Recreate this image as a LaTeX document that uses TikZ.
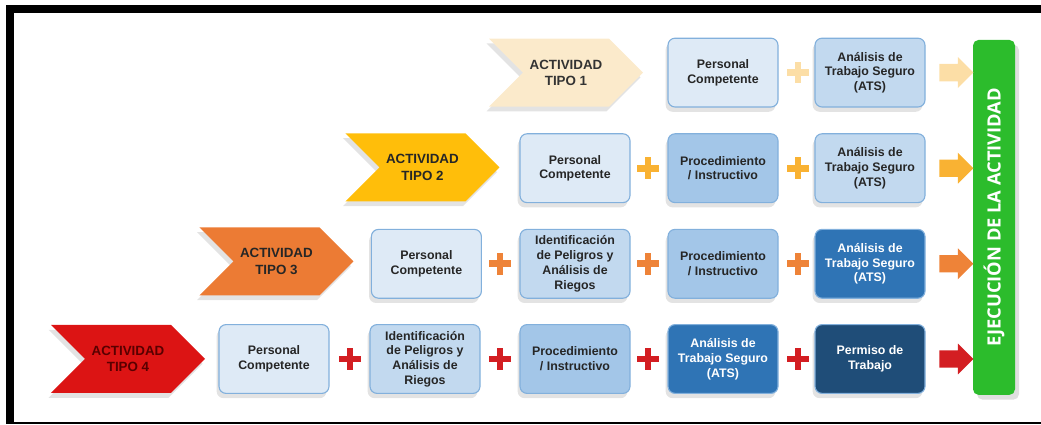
\documentclass[tikz,border=0pt]{standalone}
\usepackage{fontspec}
\setmainfont{Liberation Sans}
\newfontfamily\barfont{Open Sans}
\usetikzlibrary{shapes.symbols,shapes.arrows,shadows}

\definecolor{tipoA}{HTML}{FBEACB}
\definecolor{tipoB}{HTML}{FFBE0A}
\definecolor{tipoC}{HTML}{EC7B34}
\definecolor{tipoD}{HTML}{DC1414}
\definecolor{plusA}{HTML}{FCDEA6}
\definecolor{plusB}{HTML}{F9B233}
\definecolor{plusC}{HTML}{EE8338}
\definecolor{plusD}{HTML}{D31E22}
\definecolor{cardA}{HTML}{DEEAF6}
\definecolor{cardB}{HTML}{C2D9EF}
\definecolor{cardC}{HTML}{A3C6E8}
\definecolor{cardD}{HTML}{2F74B5}
\definecolor{cardE}{HTML}{1F4D78}
\definecolor{cardline}{HTML}{82B0DC}
\definecolor{execgreen}{HTML}{2CBC2C}

\begin{document}
\begin{tikzpicture}[
  font=\bfseries\fontsize{8.8}{10.5}\selectfont,
  chev/.style={signal, signal from=west, signal to=east, fill=#1, minimum width=3.85cm, minimum height=1.7cm, align=center, font=\bfseries\fontsize{9.5}{11.5}\selectfont, drop shadow={shadow xshift=-0.06cm, shadow yshift=-0.12cm, opacity=0.22}},
  card/.style={draw=cardline, line width=0.8pt, fill=#1, rounded corners=5pt, minimum width=2.75cm, minimum height=1.72cm, align=center, text=black!85, drop shadow={shadow xshift=-0.06cm, shadow yshift=-0.12cm, opacity=0.22}},
  plussign/.style={minimum size=0.6cm, inner sep=0pt, path picture={
    \fill[#1] ([xshift=-0.27cm,yshift=-0.085cm]path picture bounding box.center) rectangle ([xshift=0.27cm,yshift=0.085cm]path picture bounding box.center);
    \fill[#1] ([xshift=-0.085cm,yshift=-0.27cm]path picture bounding box.center) rectangle ([xshift=0.085cm,yshift=0.27cm]path picture bounding box.center);}},
  arr/.style={single arrow, fill=#1, minimum height=0.85cm, inner sep=0.21cm, single arrow head extend=0.17cm}
]
\useasboundingbox (0,0) rectangle (26.025,10.625);
% frame
\draw[line width=5.7pt] (26.1,10.4) -- (0.24,10.4) -- (0.24,0.03);
\draw[line width=0.8pt] (0.24,0.05) -- (26.1,0.05);

% ejecucion
\node[fill=execgreen, rounded corners=4pt, rotate=90, minimum width=8.875cm, minimum height=1.05cm, text=white, font=\barfont\bfseries\fontsize{13}{15}\selectfont, drop shadow={shadow xshift=0.1cm, shadow yshift=-0.12cm, opacity=0.25}] (exec) at (24.85,5.19) {EJECUCIÓN DE LA ACTIVIDAD};

% tipo 1
\node[chev=tipoA, text=black!80] (tipo1) at (14.15,8.81) {ACTIVIDAD\\TIPO 1};
\node[card=cardA] (pc1) at (18.075,8.81) {Personal\\Competente};
\node[plussign=plusA] (p1a) at (19.95,8.81) {};
\node[card=cardB] (ats1) at (21.75,8.81) {Análisis de\\Trabajo Seguro\\(ATS)};
\node[arr=plusA] (go1) at (23.8,8.81) {};

% tipo 2
\node[chev=tipoB, text=black!85] (tipo2) at (10.56,6.44) {ACTIVIDAD\\TIPO 2};
\node[card=cardA] (pc2) at (14.375,6.42) {Personal\\Competente};
\node[plussign=plusB] (p2a) at (16.2,6.42) {};
\node[card=cardC] (proc2) at (18.075,6.42) {Procedimiento\\/ Instructivo};
\node[plussign=plusB] (p2b) at (19.95,6.42) {};
\node[card=cardB] (ats2) at (21.75,6.42) {Análisis de\\Trabajo Seguro\\(ATS)};
\node[arr=plusB] (go2) at (23.8,6.42) {};

% tipo 3
\node[chev=tipoC, text=black!85] (tipo3) at (6.91,4.09) {ACTIVIDAD\\TIPO 3};
\node[card=cardA] (pc3) at (10.66,4.03) {Personal\\Competente};
\node[plussign=plusC] (p3a) at (12.5,4.03) {};
\node[card=cardB] (ipa3) at (14.375,4.03) {Identificación\\de Peligros y\\Análisis de\\Riegos};
\node[plussign=plusC] (p3b) at (16.2,4.03) {};
\node[card=cardC] (proc3) at (18.075,4.03) {Procedimiento\\/ Instructivo};
\node[plussign=plusC] (p3c) at (19.95,4.03) {};
\node[card=cardD, text=white] (ats3) at (21.75,4.03) {Análisis de\\Trabajo Seguro\\(ATS)};
\node[arr=plusC] (go3) at (23.8,4.03) {};

% tipo 4
\node[chev=tipoD, text=red!35!black] (tipo4) at (3.2,1.65) {ACTIVIDAD\\TIPO 4};
\node[card=cardA] (pc4) at (6.85,1.65) {Personal\\Competente};
\node[plussign=plusD] (p4a) at (8.75,1.65) {};
\node[card=cardB] (ipa4) at (10.625,1.65) {Identificación\\de Peligros y\\Análisis de\\Riegos};
\node[plussign=plusD] (p4b) at (12.5,1.65) {};
\node[card=cardC] (proc4) at (14.375,1.65) {Procedimiento\\/ Instructivo};
\node[plussign=plusD] (p4c) at (16.2,1.65) {};
\node[card=cardD, text=white] (ats4) at (18.075,1.65) {Análisis de\\Trabajo Seguro\\(ATS)};
\node[plussign=plusD] (p4d) at (19.95,1.65) {};
\node[card=cardE, text=white] (perm4) at (21.75,1.65) {Permiso de\\Trabajo};
\node[arr=plusD] (go4) at (23.8,1.65) {};
\end{tikzpicture}
\end{document}
